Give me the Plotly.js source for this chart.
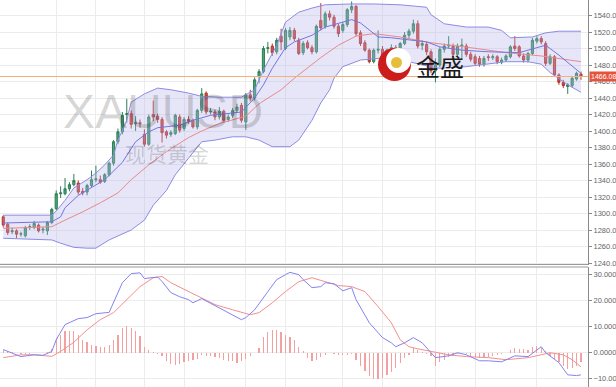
<!DOCTYPE html>
<html><head><meta charset="utf-8">
<script src="https://cdn.plot.ly/plotly-3.0.1.min.js"></script>
<style>html,body{margin:0;padding:0;background:#fff}#chart{width:616px;height:387px}</style>
</head><body><div id="chart"></div>
<script>
// ---- candle data (daily XAUUSD) ----
const openP = [1296,1287,1278,1279,1275,1273,1283,1283,1286,1280,1279,1289,1306,1324,1324,1330,1335,1337,1327,1326,
1334,1341,1341,1339,1347,1361,1387,1399,1420,1421,1409,1410,1396,1384,1420,1418,1414,1399,1396,1397,
1417,1403,1414,1413,1405,1425,1446,1423,1423,1417,1424,1414,1419,1425,1431,1411,1444,1440,1466,1472,
1500,1503,1496,1515,1500,1514,1522,1510,1495,1507,1501,1496,1534,1527,1542,1538,1527,1522,1529,1547,
1551,1519,1507,1498,1484,1498,1499,1489,1498,1501,1494,1506,1516,1521,1530,1504,1505,1496,1473,1480,
1499,1503,1503,1493,1503,1503,1493,1490,1488,1481,1490,1489,1490,1484,1486,1490,1503,1502,1491,1486,
1494,1509,1512,1506,1482,1490,1468,1459,1454,1455,1463,1469];
const highP = [1298,1289,1283,1281,1278,1285,1287,1291,1288,1284,1291,1307,1328,1333,1343,1338,1348,1340,1331,1336,
1352,1358,1346,1349,1363,1389,1403,1423,1439,1425,1418,1414,1402,1420,1437,1421,1417,1401,1401,1421,
1420,1417,1418,1415,1427,1452,1448,1428,1426,1429,1426,1420,1428,1433,1434,1446,1450,1465,1475,1503,
1508,1506,1513,1524,1525,1526,1525,1513,1509,1510,1504,1529,1555,1545,1546,1541,1530,1532,1549,1557,
1553,1522,1510,1500,1500,1522,1503,1500,1505,1504,1508,1520,1524,1535,1534,1510,1508,1499,1488,1502,
1506,1515,1506,1506,1512,1506,1496,1493,1491,1491,1493,1493,1492,1489,1493,1504,1515,1504,1494,1496,
1513,1515,1515,1509,1493,1492,1470,1462,1458,1466,1472,1472];
const lowP = [1283,1274,1275,1270,1272,1271,1280,1281,1277,1276,1274,1287,1304,1319,1322,1327,1333,1323,1322,1322,
1332,1338,1336,1337,1345,1358,1384,1396,1410,1403,1400,1404,1381,1382,1412,1410,1386,1391,1393,1395,
1398,1400,1409,1403,1402,1422,1420,1420,1413,1414,1411,1411,1416,1422,1410,1401,1436,1437,1458,1470,
1494,1491,1493,1498,1498,1510,1509,1492,1492,1499,1493,1494,1522,1524,1534,1524,1514,1519,1526,1543,
1515,1503,1496,1482,1482,1494,1486,1487,1495,1491,1492,1504,1512,1518,1500,1498,1492,1470,1459,1477,
1495,1500,1490,1490,1487,1490,1484,1479,1478,1478,1485,1486,1481,1481,1484,1488,1497,1489,1483,1483,
1492,1506,1505,1479,1480,1466,1456,1452,1445,1453,1461,1462];
const closeP = [1286,1277,1279,1275,1275.5,1283,1284,1288,1279,1281,1289,1305,1324,1325,1330,1335,1340,1326,1325,1334,
1341,1342,1338,1347,1361,1387,1399,1419,1421,1408,1410,1409,1384,1417,1417,1414,1398,1395,1398,1419,
1401,1414,1412,1405,1425,1445,1423,1424,1417,1424,1413,1417,1425,1429,1413,1444,1440,1462,1472,1500,
1501,1495,1510,1508,1522,1522,1512,1494,1506,1501,1496,1527,1525,1542,1538,1527,1518,1529,1547,1551,
1518,1506,1498,1484,1498,1499,1489,1498,1501,1494,1506,1516,1521,1530,1503,1506,1496,1473,1480,1499,
1503,1504,1493,1503,1504,1493,1487,1482,1481,1488,1489,1490,1484,1486,1491,1502,1500,1491,1486,1494,
1510,1512,1508,1482,1490,1468,1459,1455,1456,1464,1470,1466.08];

const bbUpIdx = [0,11,12,14,16,19,21,23,25,26,28,29,32,35,38,42,45,49,54,57,59,62,64,67,70,73,79,84,90,96,97,100,105,110,113,115,120,123,126,131];
const bbUp    = [1298,1298,1303,1316,1331,1341,1349,1359,1371,1389,1413,1435,1445,1452,1450,1446,1442,1441,1441,1450,1474,1504,1532,1544,1549,1553,1554,1554,1553,1550,1541,1530,1526,1526,1522,1513,1514,1519,1521,1521];
const bbLoIdx = [0,11,13,16,19,21,24,26,29,32,34,37,39,42,45,48,52,55,58,61,65,67,70,72,74,75,77,81,85,88,92,96,99,105,110,114,119,122,124,128,131];
const bbLo    = [1270,1268,1264,1259,1258,1258,1268,1273,1280,1292,1310,1328,1347,1367,1387,1389,1393,1393,1389,1381,1381,1389,1413,1434,1450,1464,1478,1486,1488,1488,1484,1479,1476,1478,1481,1484,1484,1481,1471,1456,1447];
const maFastIdx = [0,11,13,14,17,20,23,27,30,33,35,40,43,47,54,57,59,61,64,66,70,73,79,81,83,85,88,96,99,104,110,117,121,123,126,131];
const maFast    = [1288.5,1290,1296,1307,1322,1331,1341,1362,1387,1399,1404,1407,1413,1419,1423,1440,1456,1476,1501,1508,1516,1526,1535,1531,1522,1514,1513,1508,1502,1498,1496,1495,1501,1504,1492,1470];
const maSlowIdx = [0,11,14,18,22,26,29,33,37,42,45,49,55,58,63,66,72,76,80,84,90,97,106,114,122,131];
const maSlow    = [1282,1284,1292,1302,1313,1325,1341,1359,1375,1392,1400,1409,1418,1433,1450,1464,1489,1504,1515,1518,1514,1507,1501,1495,1491,1484];

// ---- MACD ----
const macdIdx = [0,2,4,7,9,11,12,14,17,19,21,24,25,27,29,31,32,35,36,38,40,42,43,45,48,51,54,55,57,60,62,64,65,67,68,70,72,73,75,77,79,80,83,86,88,89,91,93,95,98,101,103,105,108,110,113,116,119,122,123,126,128,130,131];
const macdVal = [1.2,0,-1.5,-0.8,-1.0,0.5,5.0,10.8,13.1,13.5,15.0,15.5,19.2,26.9,30.4,30.7,28.5,29.1,27.4,23.1,21.5,20.4,19.2,20.8,18.1,15.4,12.7,13.5,16.5,23.5,28.1,30.0,30.9,30.0,28.1,25.0,25.4,26.9,26.5,23.8,25.0,20.4,11.5,5.8,3.8,2.3,3.8,5.8,3.8,-1.9,-1.2,0,-0.8,-3.1,-3.1,-3.5,-1.2,-1.5,2.3,0,-3.8,-8.5,-8.8,-8.5];
const sigIdx = [0,4,7,11,13,16,19,22,25,28,31,34,36,38,42,45,48,52,56,58,61,64,67,70,73,76,79,82,85,88,90,92,94,101,105,110,114,119,122,124,127,129,131];
const sigVal = [-1.9,-0.8,-0.8,-1.4,0.5,4.0,8.8,12.7,15.4,20.4,25.4,28.8,29.3,26.9,23.5,21.2,18.5,16.5,14.6,15.4,19.2,23.5,27.3,28.8,27.3,25.8,25.4,23.5,17.7,11.5,5.0,2.3,1.5,-0.8,-1.5,-1.9,-2.7,-1.9,-0.8,0,-0.8,-2.7,-5.4];
const histVal = [1.2,0.8,0.3,-0.3,-0.6,-0.5,-0.4,-0.3,-0.3,-0.2,0.1,1.5,
5.6,6.9,8.2,8.2,8.2,6.9,5.0,4.0,3.1,2.4,2.2,2.2,3.1,5.0,6.9,9.5,10.1,9.5,8.2,6.3,2.2,0.9,0.1,-0.5,-1.4,-3.3,-4.2,-4.6,
-4.2,-3.7,-3.3,-2.9,-2.4,-0.8,-1.4,-1.4,-1.6,-2.1,-2.7,-3.3,-3.3,-4.0,-3.3,-2.4,-1.4,0.0,1.9,6.1,7.8,8.6,8.6,7.8,6.9,6.1,5.0,2.2,0.6,
-2.0,-3.3,-2.7,-1.7,-0.8,-0.3,-0.5,-1.0,-0.8,-0.8,-0.6,-2.7,-5.0,-7.2,-9.1,-10.1,-10.1,-9.7,-8.4,-7.5,-5.9,-4.0,-2.0,-0.8,1.8,0.9,0.2,-0.4,-1.4,-5.0,-3.7,
-2.7,-1.7,-1.1,-0.5,-0.2,-0.5,-1.4,-1.7,-1.9,-1.9,-1.7,-1.4,-0.8,-0.5,-0.1,0.9,1.8,1.4,1.4,1.2,2.2,2.7,1.8,0.5,-1.4,-2.4,-3.7,-5.2,-6.3,-5.9,-5.0,-3.7];

const symbol = 'XAUUSD';
const symbolCn = '现货黄金';
const brand = '金盛';

const idx = closeP.map((_, i) => i);
const lastPrice = closeP[closeP.length - 1];

const traces = [
  {type:'scatter', mode:'lines', x:bbLoIdx, y:bbLo, line:{color:'#8c8ce4', width:1}, hoverinfo:'skip', showlegend:false},
  {type:'scatter', mode:'lines', x:bbUpIdx, y:bbUp, line:{color:'#8c8ce4', width:1}, fill:'tonexty', fillcolor:'rgba(176,176,232,0.32)', hoverinfo:'skip', showlegend:false},
  {type:'scatter', mode:'lines', x:maSlowIdx, y:maSlow, line:{color:'#e88a8a', width:1}, hoverinfo:'skip', showlegend:false},
  {type:'scatter', mode:'lines', x:maFastIdx, y:maFast, line:{color:'#7474e0', width:1}, hoverinfo:'skip', showlegend:false},
  {type:'candlestick', x:idx, open:openP, high:highP, low:lowP, close:closeP,
   increasing:{line:{color:'#2f7f57', width:1}, fillcolor:'#49a576'},
   decreasing:{line:{color:'#b3362d', width:1}, fillcolor:'#e04a3e'},
   whiskerwidth:0, showlegend:false},
  {type:'bar', x:idx, y:histVal, xaxis:'x', yaxis:'y2', width:0.28, marker:{color:'#f2a0a0', line:{width:0}}, showlegend:false},
  {type:'scatter', mode:'lines', x:sigIdx, y:sigVal, xaxis:'x', yaxis:'y2', line:{color:'#f09090', width:1}, showlegend:false},
  {type:'scatter', mode:'lines', x:macdIdx, y:macdVal, xaxis:'x', yaxis:'y2', line:{color:'#8484ee', width:1}, showlegend:false}
];

const wm = 'rgba(0,0,0,0.17)';
const layout = {
  width:616, height:387,
  margin:{l:0, r:28, t:0, b:0},
  paper_bgcolor:'#fff', plot_bgcolor:'#fff',
  showlegend:false,
  bargap:0,
  xaxis:{range:[-0.75,132.6], rangeslider:{visible:false}, showticklabels:false, ticks:'',
         tickmode:'array', tickvals:[12,21,32,41,55,64,77,86,98,107,121],
         showgrid:true, gridcolor:'#ececec', gridwidth:1, zeroline:false, showline:false, fixedrange:true},
  yaxis:{domain:[0.3165,1], range:[1238.2,1558.8], side:'right', tickmode:'linear', tick0:1240, dtick:20,
         tickformat:'.2f', showgrid:true, gridcolor:'#ececec', zeroline:false,
         showline:true, linecolor:'#8a8a8a', linewidth:1, ticks:'outside', ticklen:3, tickcolor:'#8a8a8a',
         tickfont:{family:'Liberation Sans, Arial, sans-serif', size:7.5, color:'#666'}},
  yaxis2:{domain:[0,0.3101], range:[-13.18,32.95], side:'right', anchor:'x', tickmode:'linear', tick0:0, dtick:10,
         tickformat:'.4f', showgrid:true, gridcolor:'#ececec', zeroline:false,
         showline:true, linecolor:'#8a8a8a', linewidth:1, ticks:'outside', ticklen:3, tickcolor:'#8a8a8a',
         tickfont:{family:'Liberation Sans, Arial, sans-serif', size:7.5, color:'#666'}},
  shapes:[
    {type:'line', xref:'paper', yref:'y', x0:0, x1:1, y0:lastPrice, y1:lastPrice, line:{color:'#f3b07c', width:1}},
    {type:'line', xref:'paper', yref:'paper', x0:0, x1:1, y0:1-264.5/387, y1:1-264.5/387, line:{color:'#9a9a9a', width:1.2}},
    {type:'line', xref:'paper', yref:'paper', x0:0, x1:1, y0:1-267/387, y1:1-267/387, line:{color:'#9a9a9a', width:1.2}},
    {type:'circle', xref:'paper', yref:'paper', x0:378/588, x1:411/588, y0:1-81/387, y1:1-48/387, fillcolor:'#cc1c1c', line:{width:0}},
    {type:'circle', xref:'paper', yref:'paper', x0:386/588, x1:411/588, y0:1-73/387, y1:1-48/387, fillcolor:'#ffffff', line:{width:0}},
    {type:'circle', xref:'paper', yref:'paper', x0:391/588, x1:402/588, y0:1-68/387, y1:1-57/387, fillcolor:'#e6be3c', line:{width:0}}
  ],
  annotations:[
    {xref:'paper', yref:'paper', x:163/588, y:1-111/387, xanchor:'center', yanchor:'middle', text:symbol, showarrow:false,
     font:{family:'Liberation Sans, Arial, sans-serif', size:48, color:wm}},
    {xref:'paper', yref:'paper', x:167/588, y:1-153/387, xanchor:'center', yanchor:'middle', text:symbolCn, showarrow:false,
     font:{family:'Noto Sans CJK SC, sans-serif', size:21, color:wm}},
    {xref:'paper', yref:'paper', x:440/588, y:1-66/387, xanchor:'center', yanchor:'middle', text:brand, showarrow:false,
     font:{family:'Noto Sans CJK SC, sans-serif', size:24, color:'#1a1a1a'}},
    {xref:'paper', yref:'y', x:1, xanchor:'left', yanchor:'middle', y:lastPrice, text:lastPrice.toFixed(2), showarrow:false,
     bgcolor:'#e4543c', borderpad:1, xshift:1,
     font:{family:'Liberation Sans, Arial, sans-serif', size:7, color:'#fff'}}
  ]
};

Plotly.newPlot('chart', traces, layout, {staticPlot:true, displayModeBar:false});
</script>
</body></html>
